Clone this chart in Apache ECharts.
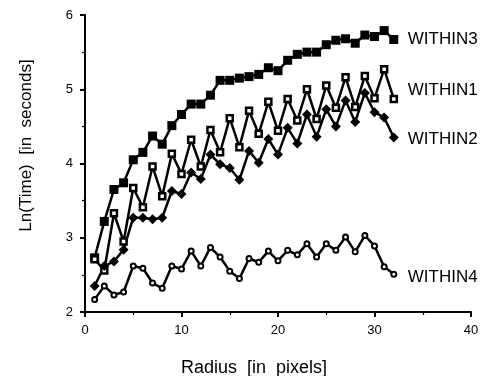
<!DOCTYPE html>
<html>
<head>
<meta charset="utf-8">
<script src="https://cdn.jsdelivr.net/npm/echarts@6/dist/echarts.min.js"></script>
<style>
  html, body { margin: 0; padding: 0; background: #fff; }
  #chart { width: 484px; height: 376px; }
</style>
</head>
<body>
<div id="chart"></div>
<script>
// radius in pixels, 1..32
const radius = [];
for (let r = 1; r <= 32; r++) radius.push(r);

// ln(time) readings per method
const within3 = [2.73, 3.22, 3.65, 3.74, 4.05, 4.15, 4.37, 4.26, 4.51, 4.66,
                 4.80, 4.80, 4.92, 5.12, 5.12, 5.15, 5.17, 5.20, 5.29, 5.25,
                 5.39, 5.47, 5.50, 5.50, 5.60, 5.66, 5.68, 5.62, 5.73, 5.71,
                 5.79, 5.67];
const within1 = [2.71, 2.56, 3.33, 2.95, 3.67, 3.41, 3.96, 3.56, 4.13, 3.86,
                 4.32, 3.96, 4.45, 4.15, 4.61, 4.22, 4.71, 4.40, 4.83, 4.44,
                 4.87, 4.58, 5.00, 4.60, 5.05, 4.75, 5.16, 4.76, 5.18, 4.88,
                 5.27, 4.87];
const within2 = [2.35, 2.62, 2.68, 2.84, 3.27, 3.27, 3.25, 3.27, 3.63, 3.59,
                 3.88, 3.79, 4.12, 3.99, 3.94, 3.78, 4.17, 4.01, 4.33, 4.12,
                 4.48, 4.27, 4.66, 4.36, 4.73, 4.50, 4.85, 4.56, 4.95, 4.69,
                 4.62, 4.35];
const within4 = [2.17, 2.35, 2.23, 2.27, 2.62, 2.59, 2.39, 2.32, 2.62, 2.58,
                 2.82, 2.62, 2.87, 2.74, 2.55, 2.45, 2.72, 2.67, 2.82, 2.69,
                 2.83, 2.77, 2.92, 2.74, 2.92, 2.83, 3.01, 2.81, 3.03, 2.89,
                 2.61, 2.51];

const xTicks = { min: 0, max: 40, step: 10 };
const yTicks = { min: 2, max: 6, step: 1 };

const FONT = 'Liberation Sans, Arial, sans-serif';

function pairs(ys) {
    return ys.map((y, i) => [radius[i], y]);
}

function lineSeries(name, ys, symbol, size, fill, border, labelOffset) {
    return {
        name: name,
        type: 'line',
        data: pairs(ys),
        symbol: symbol,
        symbolSize: size,
        showAllSymbol: true,
        lineStyle: { color: '#000', width: 2.5 },
        itemStyle: { color: fill, borderColor: '#000', borderWidth: border },
        emphasis: { disabled: true },
        z: 3,
        endLabel: {
            show: true,
            formatter: name,
            color: '#000',
            fontFamily: FONT,
            fontSize: 17,
            distance: 14,
            offset: labelOffset
        }
    };
}

const chart = echarts.init(document.getElementById('chart'));

chart.setOption({
    animation: false,
    backgroundColor: '#fff',
    // v6 shrinks the grid to keep names inside; keep the plot box fixed instead
    grid: { left: 85, right: 13, top: 15, bottom: 64, containLabel: false, outerBoundsMode: 'none' },
    xAxis: {
        type: 'value',
        min: xTicks.min,
        max: xTicks.max,
        interval: xTicks.step,
        name: 'Radius  [in  pixels]',
        nameLocation: 'middle',
        nameGap: 47,
        nameTextStyle: { color: '#000', fontFamily: FONT, fontSize: 18, padding: [0, 48, 0, 0] },
        axisLine: { lineStyle: { color: '#000', width: 2 } },
        axisTick: { lineStyle: { color: '#000', width: 2 }, length: 5 },
        minorTick: { show: true, splitNumber: 2, length: 3, lineStyle: { color: '#000', width: 1.2 } },
        axisLabel: { color: '#000', fontFamily: FONT, fontSize: 13, margin: 12 },
        splitLine: { show: false }
    },
    yAxis: {
        type: 'value',
        min: yTicks.min,
        max: yTicks.max,
        interval: yTicks.step,
        name: 'Ln(Time)  [in  seconds]',
        nameLocation: 'middle',
        nameGap: 50,
        nameTextStyle: { color: '#000', fontFamily: FONT, fontSize: 17, padding: [0, 0, 0, 36] },
        axisLine: { show: true, lineStyle: { color: '#000', width: 2 } },
        axisTick: { show: true, lineStyle: { color: '#000', width: 2 }, length: 5 },
        minorTick: { show: true, splitNumber: 2, length: 3, lineStyle: { color: '#000', width: 1.2 } },
        axisLabel: { color: '#000', fontFamily: FONT, fontSize: 13, margin: 12 },
        splitLine: { show: false }
    },
    series: [
        lineSeries('WITHIN3', within3, 'rect', 9, '#000', 0, [0, 0]),
        lineSeries('WITHIN1', within1, 'rect', 6, '#fff', 2.5, [0, -9]),
        lineSeries('WITHIN2', within2, 'diamond', 10, '#000', 0, [0, 2]),
        lineSeries('WITHIN4', within4, 'circle', 5, '#fff', 2, [0, 3])
    ]
});
</script>
</body>
</html>
